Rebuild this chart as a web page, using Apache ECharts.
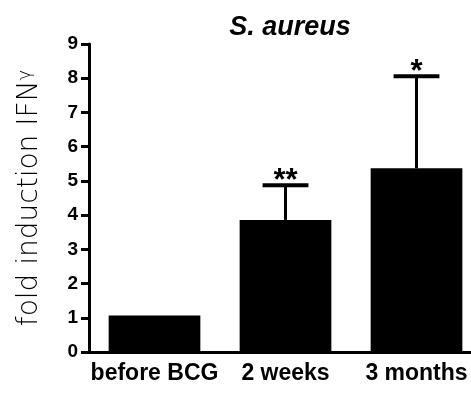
<!DOCTYPE html>
<html>
<head>
<meta charset="utf-8">
<script src="https://cdn.jsdelivr.net/npm/echarts@6/dist/echarts.min.js"></script>
<style>html,body{margin:0;padding:0;background:#fff}#c{width:471px;height:393px}</style>
</head>
<body>
<div id="c"></div>
<script>
const categories = ['before BCG', '2 weeks', '3 months'];
const means = [1.07, 3.86, 5.37];
const errUpper = [0, 1.01, 2.69];
const stars = ['', '**', '*'];
const yTicks = [0, 1, 2, 3, 4, 5, 6, 7, 8, 9];

const condensed = '"Liberation Sans Narrow", "Arial Narrow", "Liberation Sans", Arial, sans-serif';
const chart = echarts.init(document.getElementById('c'));
chart.setOption({
  animation: false,
  title: {
    text: 'S. aureus',
    left: 285, top: 9, textAlign: 'center',
    textStyle: { fontFamily: '"Liberation Sans", Arial, sans-serif', fontSize: 27, fontWeight: 'bold', fontStyle: 'italic', color: '#000' }
  },
  grid: { left: 89, right: -11, top: 44, bottom: 41, containLabel: false, outerBoundsMode: 'none' },
  xAxis: {
    type: 'category',
    data: categories,
    axisLine: { lineStyle: { color: '#000', width: 3 } },
    axisTick: { alignWithLabel: true, length: 8, lineStyle: { color: '#000', width: 3 } },
    axisLabel: { interval: 0, color: '#000', fontFamily: condensed, fontWeight: 'bold', fontSize: 23, margin: 10 }
  },
  yAxis: {
    type: 'value', min: 0, max: 9, interval: 1,
    name: 'fold induction IFN{g|γ}',
    nameLocation: 'middle', nameRotate: 90, nameGap: 45,
    nameTextStyle: { fontFamily: '"DejaVu Sans", sans-serif', fontWeight: 200, fontSize: 28, color: '#000',
      rich: { g: { fontFamily: '"DejaVu Sans", sans-serif', fontWeight: 200, fontSize: 18, color: '#000', verticalAlign: 'top' } } },
    axisLine: { show: true, lineStyle: { color: '#000', width: 3 } },
    axisTick: { show: true, length: 8, lineStyle: { color: '#000', width: 3 } },
    splitLine: { show: false },
    axisLabel: { color: '#000', fontFamily: condensed, fontWeight: 'bold', fontSize: 19, margin: 11,
      formatter: v => yTicks.includes(v) ? String(v) : '' }
  },
  series: [
    {
      type: 'bar', data: means, barCategoryGap: '30%',
      itemStyle: { color: '#000' }, z: 2
    },
    {
      type: 'custom',
      data: means.map((m, i) => [i, m, m + errUpper[i], stars[i]]),
      z: 3,
      renderItem: function (params, api) {
        const i = api.value(0);
        if (errUpper[i] <= 0) return null;
        const low = api.coord([i, api.value(1)]);
        const high = api.coord([i, api.value(2)]);
        const half = api.size([1, 0])[0] * 0.175;
        return {
          type: 'group',
          children: [
            { type: 'line', shape: { x1: low[0], y1: low[1], x2: high[0], y2: high[1] }, style: { stroke: '#000', lineWidth: 3 } },
            { type: 'line', shape: { x1: high[0] - half, y1: high[1], x2: high[0] + half, y2: high[1] }, style: { stroke: '#000', lineWidth: 4 } },
            { type: 'text', style: { text: stars[i], x: high[0], y: high[1] + 12, align: 'center', verticalAlign: 'bottom',
              font: 'bold 31px "Liberation Sans", Arial, sans-serif', fill: '#000' } }
          ]
        };
      }
    }
  ]
});
</script>
</body>
</html>
